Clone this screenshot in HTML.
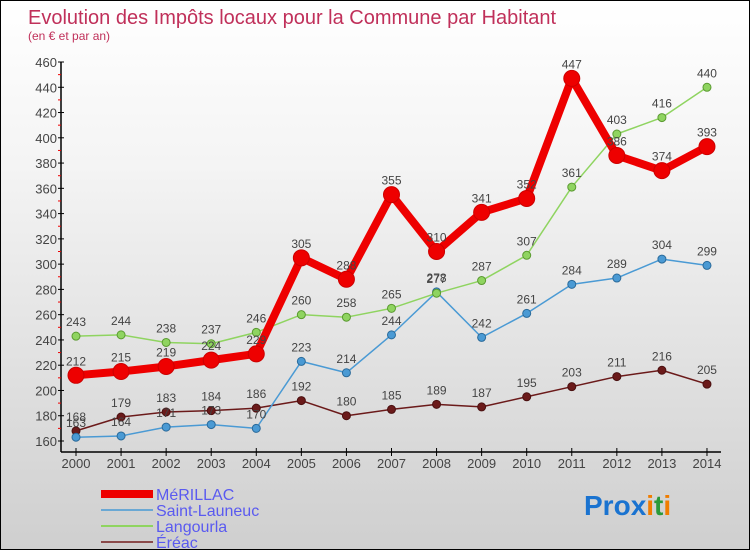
<!DOCTYPE html>
<html><head><meta charset="utf-8"><style>
body{margin:0;}
#wrap{width:748px;height:548px;border:1px solid #000;background:linear-gradient(#ffffff,#f4f4f4 30%,#cfcfcf);position:relative;overflow:hidden;font-family:"Liberation Sans",sans-serif;}
svg{position:absolute;left:0;top:0;}
</style></head><body>
<div id="wrap">
<svg id="c" width="750" height="550">
<text x="27" y="23" font-size="20" fill="#c0305a">Evolution des Impôts locaux pour la Commune par Habitant</text>
<text x="27" y="39" font-size="12" fill="#c0305a">(en € et par an)</text>
<g id="axes"></g><g id="series"></g><g id="legend"></g>
<text x="583" y="514" font-size="28" font-weight="bold"><tspan fill="#1a73d0">Pro</tspan><tspan fill="#1a73d0">x</tspan><tspan fill="#f07d00">i</tspan><tspan fill="#2a9a3a">t</tspan><tspan fill="#f07d00">i</tspan></text>
</svg></div>
<script>
const years=[2000,2001,2002,2003,2004,2005,2006,2007,2008,2009,2010,2011,2012,2013,2014];
const merillac=[212,215,219,224,229,305,288,355,310,341,352,447,386,374,393];
const saintLauneuc=[163,164,171,173,170,223,214,244,278,242,261,284,289,304,299];
const langourla=[243,244,238,237,246,260,258,265,277,287,307,361,403,416,440];
const ereac=[168,179,183,184,186,192,180,185,189,187,195,203,211,216,205];
const yTicks=[160,180,200,220,240,260,280,300,320,340,360,380,400,420,440,460];
const NS="http://www.w3.org/2000/svg";
const xs=i=>75+i*45.07;
const ys=v=>440-(v-160)*(379/300);
function mk(tag,attrs,parent){const e=document.createElementNS(NS,tag);for(const k in attrs)e.setAttribute(k,attrs[k]);parent.appendChild(e);return e;}
const ax=document.getElementById('axes');
let e=mk('line',{x1:60,y1:ys(460),x2:60,y2:451,stroke:'#000','stroke-width':1.5},ax);


e=mk('line',{x1:60,y1:451,x2:720,y2:451,stroke:'#000','stroke-width':1.5},ax);


yTicks.forEach((t,i)=>{
  mk('line',{x1:57,x2:63,y1:ys(t),y2:ys(t),stroke:'#000'},ax);
  if(i<yTicks.length-1)mk('line',{x1:57,x2:60,y1:ys(t+10),y2:ys(t+10),stroke:'#e00'},ax);
  const l=mk('text',{x:56,y:ys(t)+5,'font-size':13,fill:'#444','text-anchor':'end'},ax);
  l.textContent=t;
  
  
});
years.forEach((y,i)=>{
  mk('line',{x1:xs(i),x2:xs(i),y1:447,y2:455,stroke:'#000'},ax);
  const l=mk('text',{x:xs(i),y:467,'font-size':13,fill:'#444','text-anchor':'middle'},ax);
  l.textContent=y;
  
  
});
const sg=document.getElementById('series');
function draw(data,color,w,r,name,dark){
  const g=mk('g',{},sg);
  
  
  const p=mk('polyline',{points:data.map((v,i)=>xs(i)+','+ys(v)).join(' '),fill:'none',stroke:color,'stroke-width':w,'stroke-linejoin':'round'},g);
  
  
  data.forEach((v,i)=>{
    const c=mk('circle',{cx:xs(i),cy:ys(v),r:r,fill:color,stroke:dark,'stroke-width':1},g);
    
    
    const t=mk('text',{x:xs(i),y:ys(v)-10,'font-size':12,fill:'#444','text-anchor':'middle'},g);
    t.textContent=v;
    
    
  });
}
draw(ereac,'#6b1a1a',1.5,4,'ereac','#4a1010');
draw(saintLauneuc,'#4a9ad4',1.5,4,'saint-launeuc','#2a6a9a');
draw(langourla,'#8fd460',1.5,4,'langourla','#5a9a30');
draw(merillac,'#ee0000',8,8,'merillac','#cc0000');
const lg=document.getElementById('legend');
[['MéRILLAC','#ee0000',8],['Saint-Launeuc','#6aa8d4',2],['Langourla','#8fd460',2],['Éréac','#8a4a4a',2]].forEach((d,i)=>{
  const y=493+i*16;
  const g=mk('g',{},lg);
  
  
  mk('line',{x1:100,x2:152,y1:y,y2:y,stroke:d[1],'stroke-width':d[2]},g);
  const t=mk('text',{x:155,y:y+6,'font-size':16,fill:'#5a5af0'},g);
  t.textContent=d[0];
});
</script>
</body></html>
